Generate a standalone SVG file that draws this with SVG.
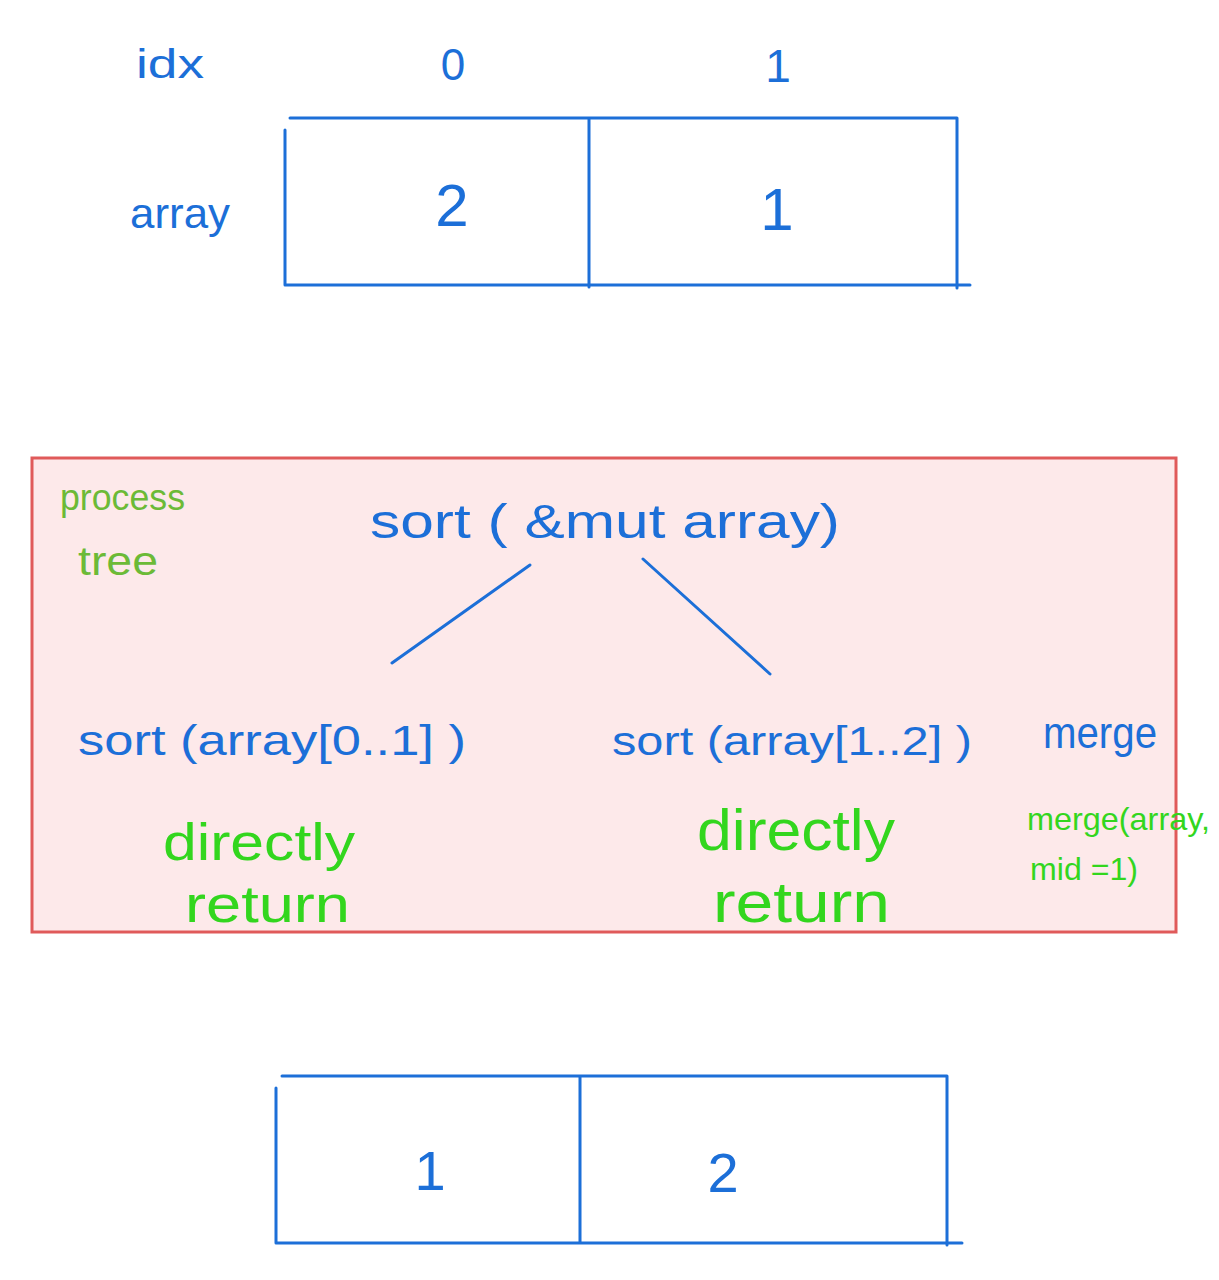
<svg xmlns="http://www.w3.org/2000/svg" width="1219" height="1280" viewBox="0 0 1219 1280">
<style>
.b{fill:#1c6fd8;font-family:"Liberation Sans","DejaVu Sans",sans-serif}
.g{fill:#33d61e;font-family:"Liberation Sans","DejaVu Sans",sans-serif}
.o{fill:#6cba37;font-family:"Liberation Sans","DejaVu Sans",sans-serif}
.ln{stroke:#1c6fd8;stroke-width:3;fill:none;stroke-linecap:round}
</style>
<rect width="1219" height="1280" fill="#ffffff"/>
<g id="labels-top">
<text class="b" x="170" y="78" font-size="40" text-anchor="middle" textLength="68" lengthAdjust="spacingAndGlyphs">idx</text>
<text class="b" x="453" y="80" font-size="44" text-anchor="middle">0</text>
<text class="b" x="778" y="82" font-size="46" text-anchor="middle">1</text>
<text class="b" x="180" y="228" font-size="42" text-anchor="middle" textLength="100" lengthAdjust="spacingAndGlyphs">array</text>
</g>
<g id="array-top">
<path class="ln" d="M290 118 H957 M285 130 V285 M589 118 V287 M957 118 V288 M285 285 H970"/>
<text class="b" x="452" y="226" font-size="60" text-anchor="middle">2</text>
<text class="b" x="777" y="230" font-size="60" text-anchor="middle">1</text>
</g>
<g id="process-tree">
<rect x="32" y="458" width="1144" height="474" fill="#fde9ea" stroke="#e05a5a" stroke-width="3"/>
<text class="o" x="60" y="510" font-size="36" textLength="125" lengthAdjust="spacingAndGlyphs">process</text>
<text class="o" x="78" y="575" font-size="40" textLength="80" lengthAdjust="spacingAndGlyphs">tree</text>
</g>
<g id="node-root">
<text class="b" x="370" y="538" font-size="48" textLength="470" lengthAdjust="spacingAndGlyphs">sort  ( &amp;mut  array)</text>
</g>
<g id="node-left">
<text class="b" x="78" y="755" font-size="42" textLength="388" lengthAdjust="spacingAndGlyphs">sort (array[0..1] )</text>
</g>
<g id="node-right">
<text class="b" x="612" y="755" font-size="40" textLength="360" lengthAdjust="spacingAndGlyphs">sort (array[1..2] )</text>
</g>
<g id="node-merge">
<text class="b" x="1043" y="748" font-size="44" textLength="114" lengthAdjust="spacingAndGlyphs">merge</text>
<text class="g" x="1027" y="830" font-size="32" textLength="183" lengthAdjust="spacingAndGlyphs">merge(array,</text>
<text class="g" x="1030" y="880" font-size="32" textLength="108" lengthAdjust="spacingAndGlyphs">mid =1)</text>
</g>
<g id="note-left">
<text class="g" x="163" y="860" font-size="52" textLength="192" lengthAdjust="spacingAndGlyphs">directly</text>
<text class="g" x="185" y="922" font-size="52" textLength="165" lengthAdjust="spacingAndGlyphs">return</text>
</g>
<g id="note-right">
<text class="g" x="697" y="850" font-size="58" textLength="198" lengthAdjust="spacingAndGlyphs">directly</text>
<text class="g" x="713" y="922" font-size="58" textLength="177" lengthAdjust="spacingAndGlyphs">return</text>
</g>
<g id="connectors">
<path class="ln" d="M530 565 L392 663"/>
<path class="ln" d="M643 559 L770 674"/>
</g>
<g id="array-bottom">
<path class="ln" d="M282 1076 H947 M276 1088 V1243 M580 1076 V1243 M947 1076 V1245 M276 1243 H962"/>
<text class="b" x="430" y="1190" font-size="56" text-anchor="middle">1</text>
<text class="b" x="723" y="1192" font-size="56" text-anchor="middle">2</text>
</g>
</svg>
